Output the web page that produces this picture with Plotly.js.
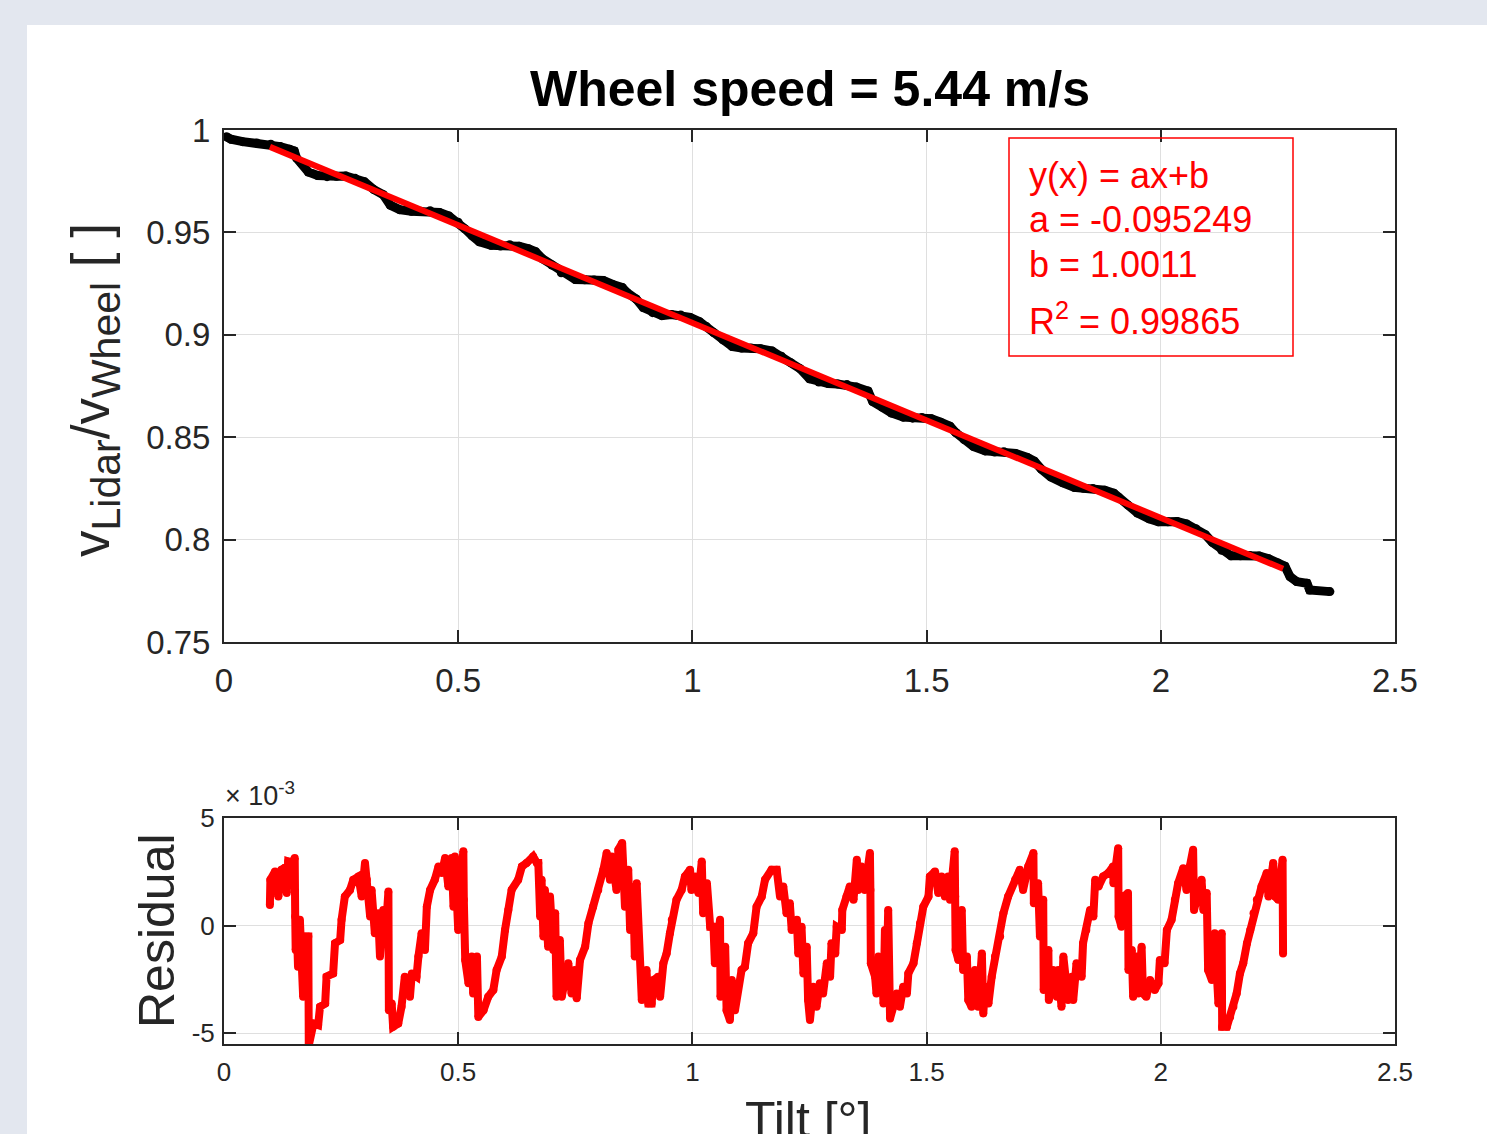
<!DOCTYPE html>
<html>
<head>
<meta charset="utf-8">
<script src="https://cdn.plot.ly/plotly-3.0.1.min.js"></script>
</head>
<body style="margin:0;background:#e3e7ef;overflow:hidden">
<div style="position:absolute;left:27px;top:25px;width:1460px;height:1109px;background:#ffffff"></div>
<div id="plot" style="position:absolute;left:0;top:0;width:1487px;height:1134px"></div>
<script>
// ---- data ----
const chartTitle = 'Wheel speed = 5.44 m/s';
// measured ratio v_Lidar / v_Wheel vs tilt [deg]
const measured = [[0.005,0.9967],[0.015,0.9955],[0.040,0.9943],[0.070,0.9937],[0.100,0.9931],[0.120,0.9919],[0.140,0.9906],[0.150,0.9898],[0.155,0.9863],[0.165,0.9839],[0.180,0.9795],[0.200,0.9778],[0.220,0.9772],[0.240,0.9774],[0.260,0.9775],[0.280,0.9764],[0.300,0.9747],[0.320,0.9709],[0.340,0.9684],[0.355,0.9633],[0.375,0.9611],[0.400,0.9603],[0.420,0.9603],[0.440,0.9606],[0.460,0.9597],[0.480,0.9580],[0.500,0.9550],[0.515,0.9516],[0.530,0.9483],[0.545,0.9454],[0.570,0.9437],[0.590,0.9433],[0.610,0.9440],[0.630,0.9432],[0.650,0.9420],[0.665,0.9406],[0.680,0.9371],[0.700,0.9341],[0.720,0.9303],[0.750,0.9270],[0.770,0.9269],[0.790,0.9268],[0.810,0.9265],[0.830,0.9246],[0.850,0.9231],[0.860,0.9207],[0.880,0.9175],[0.895,0.9133],[0.915,0.9108],[0.935,0.9094],[0.955,0.9099],[0.975,0.9097],[0.995,0.9085],[1.015,0.9064],[1.030,0.9040],[1.045,0.9011],[1.065,0.8975],[1.085,0.8943],[1.105,0.8935],[1.125,0.8935],[1.145,0.8932],[1.170,0.8921],[1.190,0.8895],[1.210,0.8864],[1.230,0.8834],[1.250,0.8785],[1.270,0.8769],[1.290,0.8762],[1.310,0.8760],[1.330,0.8757],[1.350,0.8745],[1.375,0.8725],[1.385,0.8674],[1.405,0.8647],[1.425,0.8618],[1.450,0.8598],[1.470,0.8593],[1.490,0.8596],[1.510,0.8590],[1.530,0.8573],[1.550,0.8553],[1.562,0.8523],[1.580,0.8488],[1.600,0.8455],[1.625,0.8433],[1.645,0.8428],[1.665,0.8429],[1.690,0.8421],[1.715,0.8401],[1.730,0.8383],[1.745,0.8344],[1.765,0.8306],[1.790,0.8278],[1.815,0.8255],[1.835,0.8251],[1.855,0.8250],[1.880,0.8241],[1.900,0.8226],[1.910,0.8207],[1.930,0.8168],[1.950,0.8130],[1.975,0.8102],[1.995,0.8087],[2.015,0.8087],[2.035,0.8088],[2.055,0.8076],[2.075,0.8053],[2.095,0.8024],[2.110,0.7987],[2.130,0.7948],[2.150,0.7921],[2.170,0.7921],[2.190,0.7922],[2.210,0.7920],[2.230,0.7907],[2.250,0.7886],[2.265,0.7870],[2.276,0.7819],[2.290,0.7795],[2.312,0.7787],[2.318,0.7754],[2.361,0.7746]];
// linear fit y(x) = a x + b, over the fitted tilt range
const fitA = -0.095249;
const fitB = 1.0011;
const fitR2 = 0.99865;
const fitRange = [0.098, 2.261];
// residual (units of 1e-3) vs tilt
const residual = [[0.098,0.96],[0.099,2.13],[0.109,2.52],[0.116,1.35],[0.123,2.60],[0.130,2.69],[0.134,1.52],[0.137,2.98],[0.145,2.92],[0.151,3.14],[0.152,0.42],[0.153,-1.13],[0.155,0.27],[0.158,-1.91],[0.162,0.27],[0.169,-3.31],[0.173,-0.51],[0.180,-0.51],[0.181,-5.56],[0.191,-4.55],[0.201,-4.62],[0.205,-3.77],[0.216,-3.62],[0.219,-2.37],[0.233,-2.22],[0.237,-0.82],[0.248,-0.67],[0.251,0.27],[0.258,1.35],[0.269,1.66],[0.276,2.13],[0.287,2.28],[0.294,1.35],[0.301,2.91],[0.305,2.13],[0.312,0.42],[0.315,1.66],[0.322,-0.35],[0.329,0.58],[0.333,-1.44],[0.340,0.73],[0.344,-0.67],[0.351,1.58],[0.352,-3.93],[0.358,-3.62],[0.361,-4.70],[0.372,-4.55],[0.379,-3.77],[0.386,-2.37],[0.397,-3.31],[0.401,-2.22],[0.411,-2.37],[0.415,-1.44],[0.422,-0.35],[0.429,-1.13],[0.433,0.88],[0.440,1.66],[0.450,2.13],[0.458,2.75],[0.465,2.44],[0.472,3.14],[0.479,1.82],[0.486,3.14],[0.490,0.88],[0.493,3.21],[0.500,-0.20],[0.504,1.82],[0.511,3.45],[0.512,1.20],[0.515,-1.60],[0.522,-2.68],[0.529,-1.44],[0.532,-3.15],[0.540,-1.44],[0.543,-4.24],[0.554,-3.93],[0.564,-3.31],[0.575,-2.99],[0.582,-2.06],[0.593,-1.44],[0.600,-0.20],[0.607,0.73],[0.614,1.66],[0.628,2.13],[0.636,2.75],[0.646,2.91],[0.660,3.21],[0.668,2.91],[0.671,2.91],[0.675,0.42],[0.678,2.13],[0.682,-0.51],[0.685,1.66],[0.692,-0.98],[0.696,1.35],[0.703,-1.13],[0.707,0.58],[0.710,-3.31],[0.717,-0.67],[0.721,-3.31],[0.728,-2.37],[0.735,-1.75],[0.742,-3.15],[0.749,-2.06],[0.753,-3.38],[0.760,-1.60],[0.771,-0.98],[0.778,0.11],[0.788,0.88],[0.799,1.66],[0.810,2.60],[0.817,3.37],[0.824,2.13],[0.828,3.21],[0.838,1.66],[0.842,3.53],[0.850,3.84],[0.852,2.91],[0.856,0.88],[0.863,2.60],[0.867,-0.20],[0.874,1.35],[0.877,-1.44],[0.881,1.97],[0.885,-0.67],[0.891,-2.06],[0.892,-3.46],[0.902,-2.06],[0.906,-3.62],[0.913,-3.62],[0.917,-2.53],[0.927,-2.37],[0.931,-3.31],[0.938,-1.75],[0.945,-1.29],[0.952,-0.35],[0.956,0.27],[0.966,1.20],[0.977,1.66],[0.984,2.28],[0.995,2.60],[0.998,1.66],[1.006,2.28],[1.013,1.51],[1.020,2.98],[1.023,0.58],[1.031,1.97],[1.038,-0.05],[1.045,-0.05],[1.048,-1.75],[1.059,0.27],[1.060,-3.31],[1.070,-0.98],[1.073,-3.93],[1.080,-4.39],[1.084,-2.53],[1.091,-3.93],[1.098,-2.68],[1.105,-2.06],[1.112,-1.91],[1.119,-0.82],[1.130,-0.35],[1.137,0.88],[1.148,1.35],[1.155,2.13],[1.169,2.60],[1.180,2.60],[1.187,1.35],[1.194,1.82],[1.201,0.58],[1.208,1.04],[1.212,-0.20],[1.223,0.27],[1.226,-1.29],[1.233,-0.05],[1.237,-2.22],[1.244,-0.98],[1.247,-3.46],[1.251,-4.39],[1.258,-2.84],[1.265,-3.77],[1.272,-2.68],[1.279,-3.15],[1.287,-1.75],[1.294,-2.37],[1.297,-0.82],[1.305,-1.29],[1.308,-0.05],[1.319,-0.20],[1.320,0.73],[1.329,1.35],[1.336,1.82],[1.344,1.20],[1.351,3.06],[1.354,1.66],[1.361,2.75],[1.368,1.66],[1.379,3.37],[1.380,1.66],[1.381,-1.75],[1.390,-2.37],[1.393,-3.15],[1.397,-1.44],[1.401,-2.99],[1.404,-1.75],[1.408,-3.62],[1.411,-0.20],[1.415,-2.22],[1.418,0.73],[1.422,-4.31],[1.429,-3.77],[1.436,-3.15],[1.443,-3.77],[1.450,-2.84],[1.458,-3.15],[1.461,-2.22],[1.472,-1.75],[1.479,-0.82],[1.486,0.11],[1.493,0.88],[1.504,1.35],[1.507,2.28],[1.518,2.52],[1.525,1.51],[1.532,2.28],[1.539,1.35],[1.546,2.28],[1.550,1.20],[1.560,3.45],[1.561,1.35],[1.562,-1.13],[1.568,-1.60],[1.575,0.73],[1.578,-2.06],[1.586,-1.44],[1.589,-3.46],[1.596,-3.77],[1.603,-2.06],[1.610,-3.77],[1.618,-1.29],[1.621,-4.08],[1.625,-2.84],[1.632,-3.62],[1.639,-2.37],[1.646,-1.44],[1.657,-0.51],[1.664,0.58],[1.674,1.35],[1.689,2.13],[1.699,2.60],[1.706,1.66],[1.717,2.75],[1.728,3.37],[1.729,1.04],[1.738,1.97],[1.742,-0.51],[1.749,1.20],[1.750,-2.99],[1.760,-1.13],[1.761,-3.46],[1.770,-2.06],[1.778,-3.31],[1.781,-2.06],[1.788,-3.77],[1.792,-1.44],[1.802,-3.46],[1.810,-2.37],[1.813,-3.46],[1.820,-1.75],[1.831,-2.37],[1.834,-0.82],[1.841,-0.20],[1.849,0.73],[1.856,0.42],[1.860,2.13],[1.867,1.82],[1.877,2.28],[1.888,2.44],[1.898,2.75],[1.899,1.97],[1.909,3.60],[1.910,0.42],[1.916,-0.05],[1.920,1.35],[1.930,1.51],[1.931,-2.06],[1.938,-1.13],[1.941,-3.31],[1.948,-1.44],[1.952,-3.15],[1.959,-0.98],[1.962,-3.15],[1.969,-3.31],[1.977,-2.53],[1.987,-2.99],[1.995,-2.68],[1.998,-1.60],[2.008,-1.75],[2.013,-0.20],[2.023,0.27],[2.030,1.20],[2.037,1.97],[2.048,2.67],[2.055,1.66],[2.062,2.75],[2.069,3.53],[2.071,0.73],[2.077,1.35],[2.087,2.13],[2.091,0.73],[2.098,1.51],[2.101,-2.06],[2.109,-2.53],[2.115,-0.35],[2.123,-3.62],[2.130,-0.35],[2.131,-4.70],[2.141,-4.70],[2.148,-4.24],[2.155,-3.77],[2.162,-3.15],[2.169,-2.22],[2.176,-1.75],[2.184,-0.82],[2.191,-0.20],[2.198,0.58],[2.205,1.20],[2.215,1.82],[2.226,2.44],[2.230,1.35],[2.240,2.91],[2.244,1.35],[2.251,1.20],[2.255,2.28],[2.260,3.06],[2.261,-1.29]];
// tick labels
const xTicks = [0, 0.5, 1, 1.5, 2, 2.5];
const xTickText = ['0', '0.5', '1', '1.5', '2', '2.5'];
const yTicksTop = [0.75, 0.8, 0.85, 0.9, 0.95, 1];
const yTickTextTop = ['0.75', '0.8', '0.85', '0.9', '0.95', '1'];
const yTicksRes = [-5, 0, 5];
const yTickTextRes = ['-5', '0', '5'];
const fitText = ['y(x) = ax+b', 'a = ' + fitA, 'b = ' + fitB, 'R<sup>2</sup> = ' + fitR2];

// ---- drawing ----
const W = 1487, H = 1134;
const px = v => v / W;
const py = v => 1 - v / H;
const FONT = 'Liberation Sans, Arial, Helvetica, sans-serif';
const INK = '#262626';
const GRID = '#dfdfdf';

const traces = [
  { x: measured.map(p => p[0]), y: measured.map(p => p[1]), xaxis: 'x', yaxis: 'y',
    mode: 'lines+markers', line: { color: '#000000', width: 9 }, marker: { color: '#000000', size: 9 },
    hoverinfo: 'skip' },
  { x: fitRange, y: fitRange.map(t => fitA * t + fitB), xaxis: 'x', yaxis: 'y',
    mode: 'lines', line: { color: '#ff0000', width: 6 }, hoverinfo: 'skip' },
  { x: residual.map(p => p[0]), y: residual.map(p => p[1]), xaxis: 'x2', yaxis: 'y2',
    mode: 'lines+markers', line: { color: '#ff0000', width: 8 }, marker: { color: '#ff0000', size: 8 },
    hoverinfo: 'skip' }
];

const axisCommon = {
  showline: true, linecolor: INK, linewidth: 2, mirror: 'ticks',
  ticks: 'inside', ticklen: 12, tickwidth: 2, tickcolor: INK,
  showgrid: true, gridcolor: GRID, gridwidth: 1, zeroline: false,
  tickfont: { family: FONT, size: 33, color: INK }
};
const xDomain = [px(224), px(1395)];

const layout = {
  width: W, height: H,
  margin: { l: 0, r: 0, t: 0, b: 0 },
  paper_bgcolor: 'rgba(0,0,0,0)', plot_bgcolor: '#ffffff',
  showlegend: false,
  xaxis: Object.assign({}, axisCommon, { domain: xDomain, anchor: 'y', range: [0, 2.5],
    tickvals: xTicks, ticktext: xTickText, ticklabelstandoff: 8 }),
  yaxis: Object.assign({}, axisCommon, { domain: [py(642), py(130)], anchor: 'x', range: [0.75, 1],
    tickvals: yTicksTop, ticktext: yTickTextTop, ticklabelstandoff: 5 }),
  xaxis2: Object.assign({}, axisCommon, { domain: xDomain, anchor: 'y2', range: [0, 2.5],
    tickvals: xTicks, ticktext: xTickText, ticklabelstandoff: 4,
    tickfont: { family: FONT, size: 26, color: INK } }),
  yaxis2: Object.assign({}, axisCommon, { domain: [py(1044), py(818)], anchor: 'x2', range: [-5.5, 5],
    tickvals: yTicksRes, ticktext: yTickTextRes, ticklabelstandoff: 2,
    tickfont: { family: FONT, size: 26, color: INK } }),
  shapes: [
    { type: 'rect', xref: 'paper', yref: 'paper', x0: px(1009), x1: px(1293), y0: py(356), y1: py(138),
      line: { color: '#ff0000', width: 1.5 }, fillcolor: 'rgba(0,0,0,0)' }
  ],
  annotations: [
    { text: '<b>' + chartTitle + '</b>', xref: 'paper', yref: 'paper', x: px(809.5), y: py(89),
      xanchor: 'center', yanchor: 'middle', showarrow: false,
      font: { family: FONT, size: 50, color: '#000000' } },
    { text: 'v<sub><span style="font-size:41px">Lidar</span></sub>/v<sub><span style="font-size:41px">Wheel</span></sub> [ ]',
      xref: 'paper', yref: 'paper', x: px(95), y: py(390), textangle: -90,
      xanchor: 'center', yanchor: 'middle', showarrow: false,
      font: { family: FONT, size: 53, color: INK } },
    { text: 'Residual', xref: 'paper', yref: 'paper', x: px(157), y: py(931), textangle: -90,
      xanchor: 'center', yanchor: 'middle', showarrow: false,
      font: { family: FONT, size: 50, color: INK } },
    { text: 'Tilt [°]', xref: 'paper', yref: 'paper', x: px(808), y: py(1120),
      xanchor: 'center', yanchor: 'middle', showarrow: false,
      font: { family: FONT, size: 50, color: INK } },
    { text: '× 10<sup>-3</sup>', xref: 'paper', yref: 'paper', x: px(223), y: py(813),
      xanchor: 'left', yanchor: 'bottom', showarrow: false,
      font: { family: FONT, size: 27, color: INK } }
  ].concat(fitText.map((t, i) => ({
    text: t, xref: 'paper', yref: 'paper', x: px(1027), y: py([175, 219, 265, 319][i]),
    xanchor: 'left', yanchor: 'middle', showarrow: false,
    font: { family: FONT, size: 36, color: '#ff0000' }
  })))
};

Plotly.newPlot('plot', traces, layout, { displayModeBar: false, staticPlot: true });
</script>
</body>
</html>
